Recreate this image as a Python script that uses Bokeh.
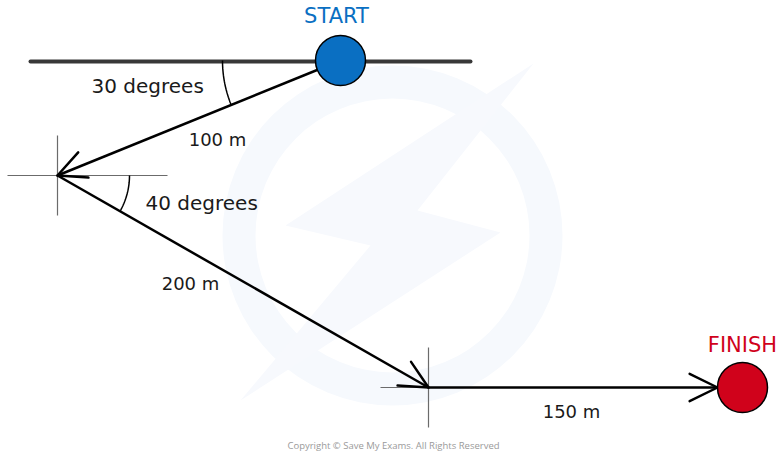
import numpy as np
from bokeh.plotting import figure
from bokeh.models import Range1d
from bokeh.core.properties import value
from bokeh.embed import file_html
from bokeh.resources import INLINE

# ---- diagram data (in drawing units) ----
waypoint_x = [340, 57, 428, 742]      # start, turn 1, turn 2, finish
waypoint_y = [60, 175, 387, 387]
leg_labels = ["100 m", "200 m", "150 m"]
angle_labels = ["30 degrees", "40 degrees"]
end_labels = ["START", "FINISH"]
end_colors = ["#0A6FC2", "#D0021B"]

# label anchor positions (layout)
leg_label_x = [217, 190, 571]
leg_label_y = [139, 283, 411]
angle_label_x = [91, 145]
angle_label_y = [85, 202]
end_label_x = [336, 742]
end_label_y = [15, 344]

R_DOT = 25
ARM_LEN = 31
ARM_ANG = np.radians(26)

W, H = 779, 453
p = figure(width=W, height=H, x_range=Range1d(0, W), y_range=Range1d(H, 0),
           output_backend="svg", toolbar_location=None, min_border=0,
           x_axis_location=None, y_axis_location=None)
p.grid.visible = False
p.outline_line_color = None
p.background_fill_color = "white"
p.border_fill_color = "white"

# ---- faint watermark ----
p.annulus(x=392, y=235, inner_radius=137, outer_radius=170,
          fill_color="#F6F9FD", line_color=None)
p.patch([533, 285, 370, 240, 500, 417], [63, 225, 245, 400, 232, 210],
        fill_color="#F7F9FD", line_color=None)

# ---- reference crosses at the turns ----
gray = "#6b6b6b"
p.segment(x0=[7, 57, 380, 428], y0=[175, 135, 387, 347],
          x1=[167, 57, 428, 428], y1=[175, 215, 387, 427],
          line_color=gray, line_width=1.2)

# ---- horizontal reference line through start ----
p.line([30, 470], [61, 61], line_color="#383838", line_width=4, line_cap="round")

# ---- legs with open arrowheads ----
wx = np.array(waypoint_x, float)
wy = np.array(waypoint_y, float)
for i in range(len(leg_labels)):
    x0, y0, x1, y1 = wx[i], wy[i], wx[i + 1], wy[i + 1]
    d = np.array([x1 - x0, y1 - y0])
    d = d / np.hypot(*d)
    tip = np.array([x1, y1])
    if i == len(leg_labels) - 1:
        tip = tip - d * R_DOT
    p.line([x0, tip[0]], [y0, tip[1]], line_color="black", line_width=2.5)
    back = -d
    for s in (-1, 1):
        c, sn = np.cos(s * ARM_ANG), np.sin(s * ARM_ANG)
        arm = np.array([back[0] * c - back[1] * sn, back[0] * sn + back[1] * c]) * ARM_LEN
        p.line([tip[0], tip[0] + arm[0]], [tip[1], tip[1] + arm[1]],
               line_color="black", line_width=2.5, line_cap="round")

# ---- angle arcs ----
a1 = np.arctan2(wy[1] - wy[0], wx[1] - wx[0])
t = np.linspace(a1, np.pi, 40)
p.line(wx[0] + 118 * np.cos(t), wy[0] + 118 * np.sin(t), line_color="black", line_width=1.5)
a2 = np.arctan2(wy[2] - wy[1], wx[2] - wx[1])
t = np.linspace(0, a2, 40)
p.line(wx[1] + 72 * np.cos(t), wy[1] + 72 * np.sin(t), line_color="black", line_width=1.5)

# ---- start / finish dots ----
p.circle(x=[wx[0], wx[-1]], y=[wy[0], wy[-1]], radius=R_DOT,
         fill_color=end_colors, line_color="black", line_width=1.5)

# ---- texts ----
p.text(x=end_label_x, y=end_label_y, text=end_labels, text_color=end_colors,
       text_font=value("DejaVu Sans"), text_font_size="21px",
       text_align="center", text_baseline="alphabetic")
p.text(x=angle_label_x, y=angle_label_y, text=angle_labels, text_color="#1a1a1a",
       text_font=value("DejaVu Sans"), text_font_size="20px",
       text_align="left", text_baseline="alphabetic")
p.text(x=leg_label_x, y=leg_label_y, text=leg_labels, text_color="#1a1a1a",
       text_font=value("DejaVu Sans"), text_font_size="18px",
       text_align="center", text_baseline="alphabetic")
p.text(x=[393], y=[445], text=["Copyright © Save My Exams. All Rights Reserved"],
       text_color="#9a9a9a", text_font=value("Open Sans"), text_font_size="9.5px",
       text_align="center", text_baseline="alphabetic")

open("out.html", "w").write(file_html(p, INLINE))
